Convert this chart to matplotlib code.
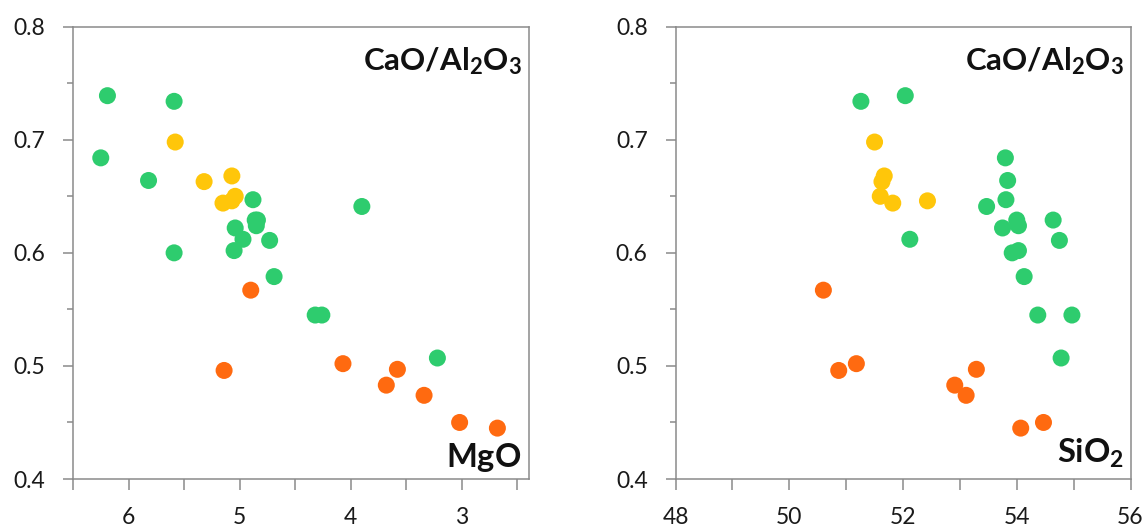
import matplotlib
matplotlib.use("Agg")
import matplotlib.pyplot as plt
from matplotlib.ticker import FixedLocator, NullFormatter

plt.rcParams['font.family'] = ['Lato', 'DejaVu Sans']
plt.rcParams['mathtext.fontset'] = 'custom'
plt.rcParams['mathtext.rm'] = 'Lato'
plt.rcParams['mathtext.bf'] = 'Lato:bold'

# ---- data: CaO/Al2O3 (y) shared by both panels, per group ----
green_ratio = [0.739, 0.734, 0.684, 0.664, 0.647, 0.641, 0.622, 0.629, 0.624,
               0.629, 0.612, 0.600, 0.602, 0.611, 0.579, 0.545, 0.545, 0.507]
green_mgo = [6.19, 5.59, 6.25, 5.82, 4.88, 3.90, 5.04, 4.84, 4.85,
             4.86, 4.97, 5.59, 5.05, 4.73, 4.69, 4.32, 4.26, 3.22]
green_sio2 = [52.04, 51.26, 53.80, 53.84, 53.81, 53.47, 53.75, 54.00, 54.03,
              54.64, 52.12, 53.92, 54.03, 54.75, 54.13, 54.37, 54.97, 54.78]

yellow_ratio = [0.698, 0.668, 0.663, 0.650, 0.644, 0.646]
yellow_mgo = [5.58, 5.07, 5.32, 5.04, 5.15, 5.07]
yellow_sio2 = [51.50, 51.67, 51.63, 51.60, 51.82, 52.43]

orange_ratio = [0.567, 0.496, 0.502, 0.483, 0.474, 0.497, 0.445, 0.450]
orange_mgo = [4.90, 5.14, 4.07, 3.68, 3.34, 3.58, 2.68, 3.02]
orange_sio2 = [50.60, 50.87, 51.18, 52.91, 53.11, 53.29, 54.07, 54.47]

y_ticks = [0.4, 0.5, 0.6, 0.7, 0.8]
y_minor = [0.45, 0.55, 0.65, 0.75]
mgo_ticks = [6, 5, 4, 3]
mgo_minor = [6.5, 5.5, 4.5, 3.5, 2.5]
sio2_ticks = [48, 50, 52, 54, 56]
sio2_minor = [49, 51, 53, 55]

GREEN = '#2ecc6e'
YELLOW = '#ffc60a'
ORANGE = '#ff6a10'
SPINE = '#8a8a8a'

fig = plt.figure(figsize=(11.42, 5.26), dpi=100)
W, H = 1142, 526
ax1 = fig.add_axes([73.0 / W, (H - 479) / H, 455.5 / W, 452.3 / H])
ax2 = fig.add_axes([675.5 / W, (H - 479) / H, 455 / W, 452.3 / H])

def style(ax, xticks, xminor, xlim):
    ax.set_xlim(*xlim)
    ax.set_ylim(0.4, 0.8)
    ax.xaxis.set_major_locator(FixedLocator(xticks))
    ax.xaxis.set_minor_locator(FixedLocator(xminor))
    ax.yaxis.set_major_locator(FixedLocator(y_ticks))
    ax.yaxis.set_minor_locator(FixedLocator(y_minor))
    ax.xaxis.set_minor_formatter(NullFormatter())
    ax.yaxis.set_minor_formatter(NullFormatter())
    ax.set_yticklabels([f'{v:.1f}' for v in y_ticks])
    ax.set_xticklabels([str(v) for v in xticks])
    for s in ax.spines.values():
        s.set_color(SPINE)
        s.set_linewidth(1.1)
    ax.tick_params(axis='x', which='both', direction='out', length=8,
                   width=1.1, color=SPINE, labelsize=16.5, pad=12,
                   labelcolor='#1a1a1a')
    ax.tick_params(axis='y', which='major', direction='out', length=7,
                   width=1.1, color=SPINE, labelsize=16.5, pad=13,
                   labelcolor='#1a1a1a')
    ax.tick_params(axis='y', which='minor', direction='out', length=4,
                   width=1.1, color=SPINE)

style(ax1, mgo_ticks, mgo_minor, (6.5, 2.4))
style(ax2, sio2_ticks, sio2_minor, (48, 56))

S = 150
for ax, gx, yx, ox in [(ax1, green_mgo, yellow_mgo, orange_mgo),
                       (ax2, green_sio2, yellow_sio2, orange_sio2)]:
    ax.scatter(gx, green_ratio, s=S, c=GREEN, edgecolors='none', zorder=3, clip_on=False)
    ax.scatter(yx, yellow_ratio, s=S, c=YELLOW, edgecolors='none', zorder=3, clip_on=False)
    ax.scatter(ox, orange_ratio, s=S, c=ORANGE, edgecolors='none', zorder=3, clip_on=False)
    ax.text(0.985, 0.904, r'$\mathbf{CaO/Al_2O_3}$', transform=ax.transAxes,
            ha='right', va='baseline', fontsize=22.5, color='#111111')

ax1.text(0.985, 0.027, r'$\mathbf{MgO}$', transform=ax1.transAxes,
         ha='right', va='baseline', fontsize=23.5, color='#111111')
ax2.text(0.985, 0.036, r'$\mathbf{SiO_2}$', transform=ax2.transAxes,
         ha='right', va='baseline', fontsize=23.5, color='#111111')

fig.savefig('out.png', dpi=100)
